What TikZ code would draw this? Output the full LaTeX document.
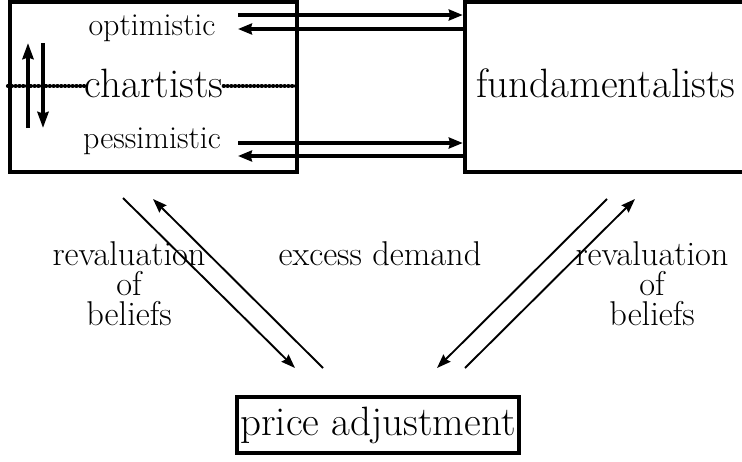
\documentclass[tikz,border=0pt]{standalone}
\usepackage{fontspec}
\usetikzlibrary{arrows.meta}
\begin{document}
\begin{tikzpicture}[x=1pt,y=-1pt,
  box/.style={draw,line width=4.5pt,inner sep=0pt},
  thickarr/.style={line width=3.8pt,-{Stealth[length=14pt,width=11pt,inset=1.5pt]}},
  vertarr/.style={line width=3.8pt,-{Stealth[length=16pt,width=11pt,inset=1.5pt]}},
  thinarr/.style={line width=1.9pt,-{Stealth[length=14pt,width=10pt,inset=1.5pt]}},
  dotline/.style={line width=3.6pt,line cap=round,dash pattern=on 0.6pt off 3.2pt},
  txt/.style={inner sep=0pt,anchor=base},
  big/.style={font=\fontsize{41}{44}\selectfont},
  mid/.style={font=\fontsize{32}{34}\selectfont},
  lbl/.style={font=\fontsize{34.4}{30}\selectfont,align=center}]
\useasboundingbox (0,0) rectangle (742,461);
% boxes
\node[box,minimum width=287pt,minimum height=170pt] (chbox) at (153.5,87) {};
\node[box,minimum width=282pt,minimum height=170pt] (fbox) at (606,87) {};
\node[box,big,minimum width=282pt,minimum height=56pt] (price) at (378,425) {price adjustment};
% texts
\node[txt,big] (fund) at (606,97) {fundamentalists};
\node[txt,big] (chart) at (154,97) {chartists};
\node[txt,mid] (opt) at (152,35) {optimistic};
\node[txt,mid] (pes) at (152,148) {pessimistic};
\node[txt,lbl] (revl) at (129,325) {revaluation\\of\\beliefs};
\node[txt,lbl] (revr) at (652,325) {revaluation\\of\\beliefs};
\node[txt,lbl] (exd) at (380,265) {excess demand};
% dotted line
\coordinate (dm) at (0,86);
\draw[dotline] (chbox.west |- dm) -- (chart.west |- dm);
\draw[dotline] (chart.east |- dm) -- (chbox.east |- dm);
% vertical arrows
\coordinate (u0) at (28,128); \coordinate (u1) at (28,43);
\coordinate (d0) at (43,43); \coordinate (d1) at (43,128);
\draw[vertarr] (u0) -- (u1);
\draw[vertarr] (d0) -- (d1);
% horizontal arrows
\coordinate (h1) at (238,15); \coordinate (h2) at (238,29);
\coordinate (h3) at (238,143); \coordinate (h4) at (238,156);
\draw[thickarr] (h1) -- (h1 -| fbox.west);
\draw[thickarr] (h2 -| fbox.west) -- (h2);
\draw[thickarr] (h3) -- (h3 -| fbox.west);
\draw[thickarr] (h4 -| fbox.west) -- (h4);
% diagonals
\coordinate (l1a) at (123,198); \coordinate (l1b) at (295,368);
\coordinate (l2a) at (323,368); \coordinate (l2b) at (153,199);
\coordinate (r1a) at (607,199); \coordinate (r1b) at (437,368);
\coordinate (r2a) at (465,368); \coordinate (r2b) at (635,199);
\draw[thinarr] (l1a) -- (l1b);
\draw[thinarr] (l2a) -- (l2b);
\draw[thinarr] (r1a) -- (r1b);
\draw[thinarr] (r2a) -- (r2b);
\end{tikzpicture}
\end{document}
